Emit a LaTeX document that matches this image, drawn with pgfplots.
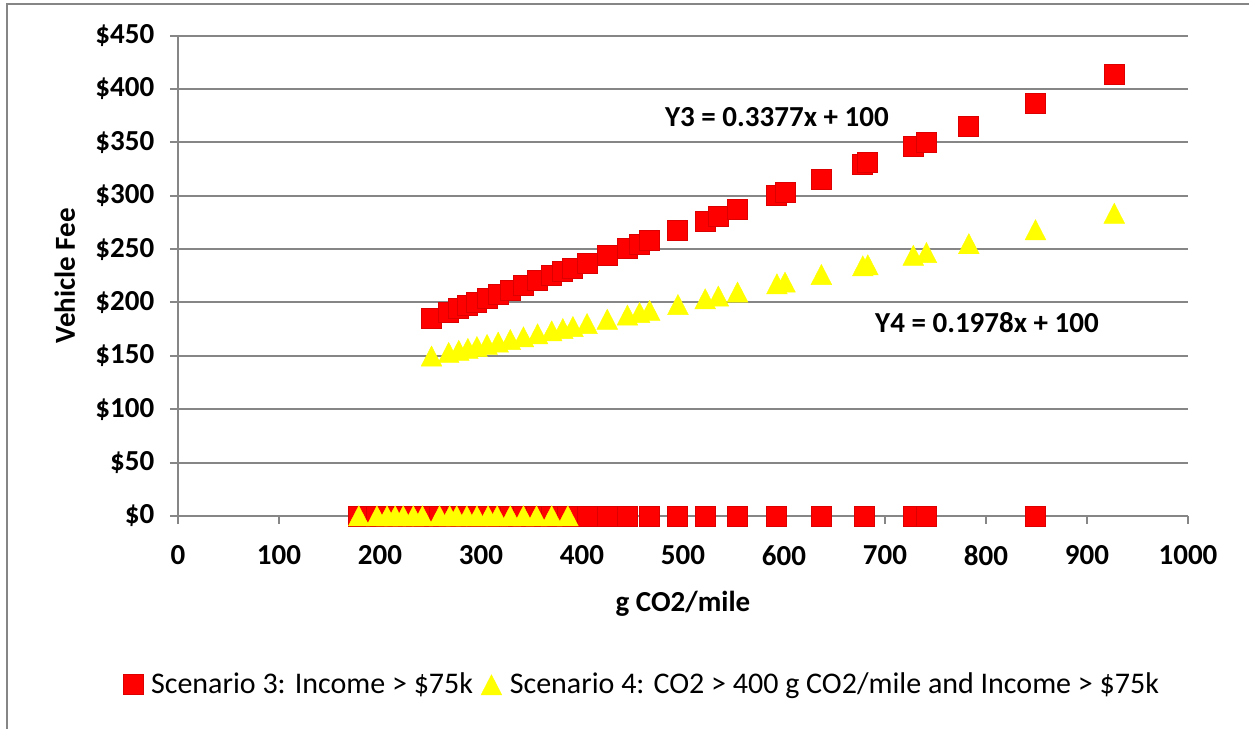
\documentclass[border=0pt]{standalone}
\usepackage{pgfplots}
\pgfplotsset{compat=1.18}
\usepackage{fontspec}
\setmainfont{Carlito}
\definecolor{gridgray}{HTML}{868686}
\definecolor{sqred}{HTML}{FF0000}
\definecolor{sqedge}{HTML}{DD0000}
\definecolor{triyel}{HTML}{FFFF00}
\begin{document}
\begin{tikzpicture}
\fontsize{14}{17}\selectfont
\useasboundingbox (-89pt,-106.5pt) rectangle (535.5pt,258pt);
\draw[gridgray, line width=1pt] (540pt,256pt) -- (-85.5pt,256pt) -- (-85.5pt,-110pt);
\begin{axis}[
  at={(0pt,0pt)}, anchor=south west,
  scale only axis, width=505pt, height=240.25pt,
  xmin=0, xmax=1000, ymin=0, ymax=450,
  axis lines*=left,
  axis line style={gridgray, line width=1pt},
  xtick={0,100,...,1000},
  xticklabels={0,100,200,300,400,500,600,700,800,900,1000},
  ytick={0,50,...,450},
  yticklabels={\$0,\$50,\$100,\$150,\$200,\$250,\$300,\$350,\$400,\$450},
  tick align=outside, major tick length=4pt,
  tick style={gridgray, line width=1pt},
  ymajorgrids, grid style={gridgray, line width=1pt},
  ticklabel style={font=\fontsize{14.5}{17}\selectfont\bfseries},
  xticklabel style={yshift=-6pt},
  yticklabel style={xshift=-3pt},
  xlabel={g CO2/mile},
  xlabel style={font=\fontsize{14.5}{17}\selectfont\bfseries, at={(axis description cs:0.5,-0.183)}, anchor=center},
  ylabel={Vehicle Fee},
  ylabel style={font=\fontsize{14.5}{17}\selectfont\bfseries, at={(axis description cs:-0.112,0.5)}, anchor=center, rotate=0},
  legend style={at={(axis description cs:0.4604,-0.3517)}, anchor=center, draw=none, fill=none,
    font=\fontsize{15}{18}\selectfont, column sep=2pt},
  legend columns=2,
  legend cell align=left,
  clip=false,
]
\addplot[only marks, mark=square*, mark size=5pt, mark options={fill=sqred, draw=sqedge, line width=0.5pt}] table {
x y
179 0
197 0
207 0
215 0
223 0
233 0
242 0
259 0
269 0
276 0
286 0
296 0
307 0
316 0
329 0
342 0
355 0
370 0
386 0
405 0
425 0
445 0
467 0
495 0
522 0
554 0
593 0
637 0
680 0
728 0
741 0
849 0
251 184.76
268 190.50
278 193.88
287 196.92
296 199.96
306 203.34
317 207.05
329 211.10
342 215.49
356 220.22
370 224.95
381 228.66
391 232.04
405 236.77
425 243.52
445 250.28
457 254.33
467 257.71
495 267.16
522 276.28
535 280.67
554 287.09
593 300.26
601 302.96
637 315.11
678 328.96
683 330.65
728 345.85
741 350.24
783 364.42
849 386.71
927 413.05
};
\addlegendentry{Scenario 3: Income > \$75k}
\addplot[only marks, mark=triangle*, mark size=6pt, mark options={fill=triyel, draw=triyel, line width=0.2pt, yshift=-1.6pt, yscale=1.12}] table {
x y
179 0
197 0
207 0
215 0
223 0
233 0
242 0
259 0
269 0
276 0
286 0
296 0
307 0
316 0
329 0
342 0
355 0
370 0
386 0
251 149.65
268 153.01
278 154.99
287 156.77
296 158.55
306 160.53
317 162.70
329 165.08
342 167.65
356 170.42
370 173.19
381 175.36
391 177.34
405 180.11
425 184.07
445 188.02
457 190.39
467 192.37
495 197.91
522 203.25
535 205.82
554 209.58
593 217.30
601 218.88
637 226.00
678 234.11
683 235.10
728 244.00
741 246.57
783 254.88
849 267.93
927 283.35
};
\addlegendentry{Scenario 4: CO2 > 400 g CO2/mile and Income > \$75k}
\node[font=\fontsize{14.5}{17}\selectfont\bfseries] at (axis cs:593,373.6) {Y3 = 0.3377x + 100};
\node[font=\fontsize{14.5}{17}\selectfont\bfseries] at (axis cs:801,181.6) {Y4 = 0.1978x + 100};
\end{axis}
\end{tikzpicture}
\end{document}
